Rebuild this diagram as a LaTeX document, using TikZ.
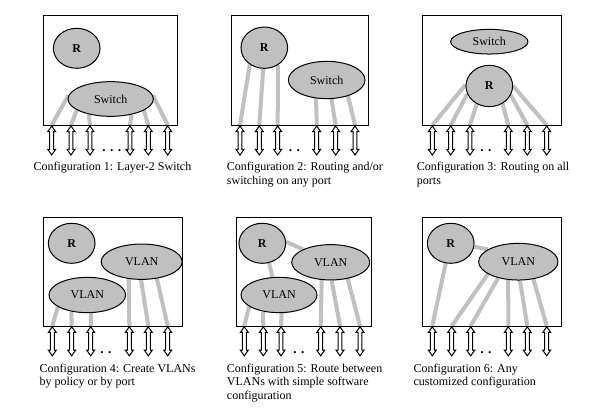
\documentclass[tikz,border=0pt]{standalone}
\usepackage{fontspec}
\setmainfont{Liberation Serif}
\usetikzlibrary{shapes.geometric, shapes.arrows}
\definecolor{unitgray}{RGB}{192,192,192}
\pgfdeclarelayer{wires}
\pgfsetlayers{wires,main}

\begin{document}
\begin{tikzpicture}[x=0.75pt,y=-0.75pt,font=\fontsize{9}{10.2}\selectfont,
  unit/.style={ellipse, draw=black, fill=unitgray, line width=0.75pt, inner sep=0pt},
  router/.style={unit, minimum width=35pt, minimum height=30pt, font=\fontsize{9}{10.2}\selectfont\bfseries},
  switch/.style={unit, minimum width=58pt, minimum height=27pt},
  vlan/.style={unit, minimum width=59pt, minimum height=26.5pt},
  port/.style={double arrow, draw=black, fill=white, line width=0.75pt, rotate=90, inner xsep=0pt, inner ysep=1.1pt,
    minimum height=21.75pt, minimum width=5.25pt, double arrow head extend=1.5pt, double arrow tip angle=70},
  link/.style={draw=unitgray, line width=3pt},
  caption/.style={anchor=north west, align=left, inner sep=0pt},
  dots/.style={anchor=base west, inner sep=0pt, font=\fontsize{10}{12}\selectfont\bfseries}]
\useasboundingbox (0,0) rectangle (605,409);

% configuration 1
\draw[line width=0.75pt] (43.3,16) rectangle (177.3,126);
\node[router] (r1) at (76.7,48.3) {R};
\node[switch, minimum width=64pt, minimum height=26pt] (sw1) at (110.7,99) {Switch};
\foreach \n/\x in {1/51.7,2/71,3/90,4/130,5/148.3,6/167.7}
  \node[port] (p1\n) at (\x,140.5) {};
\node[dots] (d1) at (102,152) {. . . .};
\begin{pgfonlayer}{wires}
\foreach \n/\a in {1/175,2/198,3/215,4/323,5/341,6/5}
  \draw[link] (p1\n.east) -- (sw1.\a);
\end{pgfonlayer}
\node[caption] (c1) at (33.3,162) {Configuration 1: Layer-2 Switch};

% configuration 2
\draw[line width=0.75pt] (231,16) rectangle (368.3,126);
\node[router, minimum height=31pt] (r2) at (264.3,47.7) {R};
\node[switch, minimum width=57.5pt, minimum height=28pt] (sw2) at (326.7,80) {Switch};
\foreach \n/\x in {1/240,2/259.3,3/277.7,4/316.7,5/335.7,6/355}
  \node[port] (p2\n) at (\x,140.5) {};
\node[dots] (d2) at (288.5,152) {. .};
\begin{pgfonlayer}{wires}
\foreach \n/\a in {1/229,2/267,3/308}
  \draw[link] (p2\n.east) -- (r2.\a);
\foreach \n/\a in {4/240,5/284,6/323}
  \draw[link] (p2\n.east) -- (sw2.\a);
\end{pgfonlayer}
\node[caption] (c2) at (226.7,162) {Configuration 2: Routing and/or\\switching on any port};

% configuration 3
\draw[line width=0.75pt] (422.3,16) rectangle (561.7,126);
\node[switch, minimum height=18.5pt] (sw3) at (489.3,41.7) {Switch};
\node[router, minimum height=31pt] (r3) at (489.3,86) {R};
\foreach \n/\x in {1/432.3,2/450.7,3/470,4/508.3,5/527.3,6/546.7}
  \node[port] (p3\n) at (\x,140.5) {};
\node[dots] (d3) at (480,152) {. .};
\begin{pgfonlayer}{wires}
\foreach \n/\a in {1/177,2/200,3/235,4/307,5/337,6/0}
  \draw[link] (p3\n.east) -- (r3.\a);
\end{pgfonlayer}
\node[caption] (c3) at (416.7,162) {Configuration 3: Routing on all\\ports};

% configuration 4
\draw[line width=0.75pt] (43.3,217.3) rectangle (182.7,326.7);
\node[router] (r4) at (71.7,243.3) {R};
\node[vlan, minimum width=60.75pt] (vu4) at (141.7,261.7) {VLAN};
\node[vlan, minimum width=57.5pt] (vl4) at (87.3,295) {VLAN};
\foreach \n/\x in {1/52.3,2/71.7,3/90.7,4/129.3,5/148.3,6/167.7}
  \node[port] (p4\n) at (\x,341.3) {};
\node[dots] (d4) at (100,353) {. .};
\begin{pgfonlayer}{wires}
\foreach \n/\a in {1/202,2/226,3/282}
  \draw[link] (p4\n.east) -- (vl4.\a);
\foreach \n/\a in {4/233,5/268,6/312}
  \draw[link] (p4\n.east) -- (vu4.\a);
\end{pgfonlayer}
\node[caption] (c4) at (39.3,363.5) {Configuration 4: Create VLANs\\by policy or by port};

% configuration 5
\draw[line width=0.75pt] (236,217.3) rectangle (371.7,326.7);
\node[router] (r5) at (262.3,243.3) {R};
\node[vlan, minimum width=58.5pt] (vu5) at (330.7,262.3) {VLAN};
\node[vlan, minimum width=57pt] (vl5) at (279,295) {VLAN};
\foreach \n/\x in {1/244.3,2/263.3,3/281,4/320.7,5/340,6/360}
  \node[port] (p5\n) at (\x,341.3) {};
\node[dots] (d5) at (293,353) {. .};
\begin{pgfonlayer}{wires}
\draw[link] (r5.4) -- (vu5.155);
\draw[link] (r5.289) -- (vl5.110);
\foreach \n/\a in {1/201,2/226,3/278}
  \draw[link] (p5\n.east) -- (vl5.\a);
\foreach \n/\a in {4/243,5/273,6/316}
  \draw[link] (p5\n.east) -- (vu5.\a);
\end{pgfonlayer}
\node[caption] (c5) at (226.7,363.5) {Configuration 5: Route between\\VLANs with simple software\\configuration};

% configuration 6
\draw[line width=0.75pt] (422.3,217.3) rectangle (561.7,326.7);
\node[router] (r6) at (450.7,243.3) {R};
\node[vlan, minimum width=59.5pt, minimum height=27.5pt] (v6) at (518.3,261.7) {VLAN};
\foreach \n/\x in {1/432.3,2/451.7,3/470.7,4/508.3,5/527.3,6/546.7}
  \node[port] (p6\n) at (\x,341.3) {};
\node[dots] (d6) at (480,353) {. .};
\begin{pgfonlayer}{wires}
\draw[link] (r6.352) -- (v6.158);
\draw[link] (p61.east) -- (r6.256);
\foreach \n/\a in {2/202,3/219,4/241,5/275,6/311}
  \draw[link] (p6\n.east) -- (v6.\a);
\end{pgfonlayer}
\node[caption] (c6) at (413.3,363.5) {Configuration 6: Any\\customized configuration};
\end{tikzpicture}
\end{document}
